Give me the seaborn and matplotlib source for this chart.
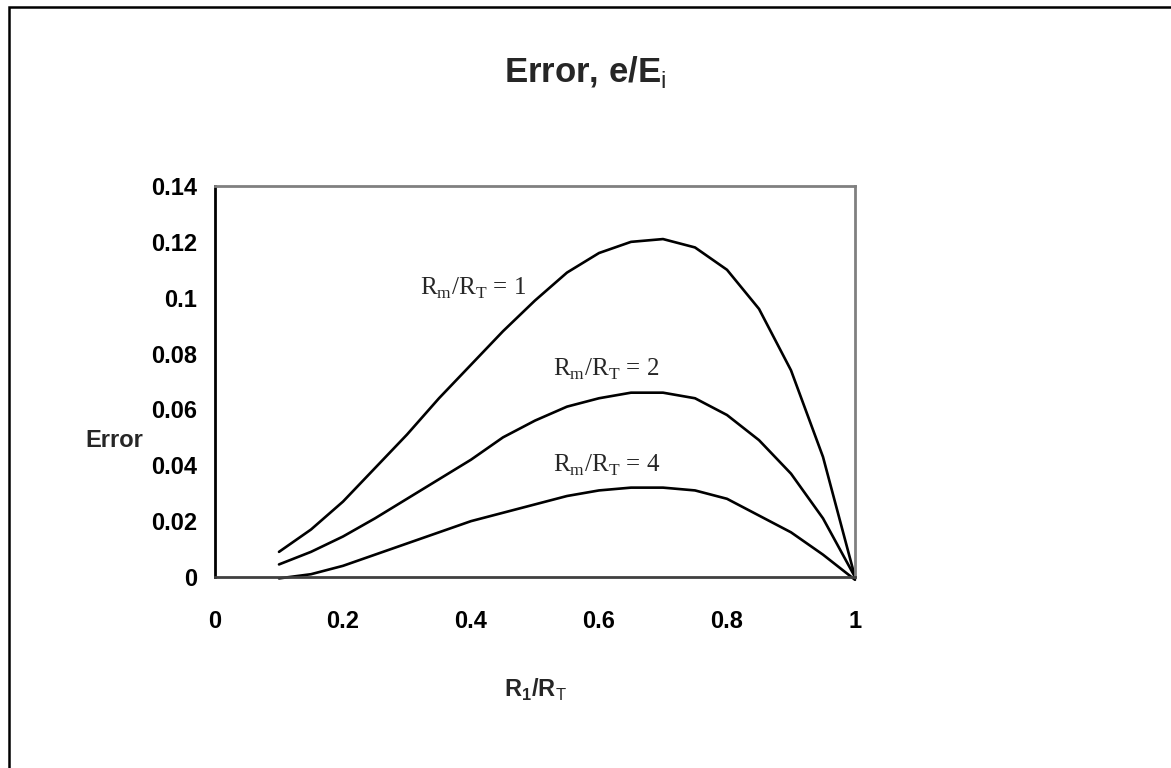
import matplotlib
matplotlib.use("Agg")
import matplotlib.pyplot as plt
import matplotlib.patches as mpatches
import numpy as np
import pandas as pd
import seaborn as sns

# ---- data ----
x_vals = [0.1, 0.15, 0.2, 0.25, 0.3, 0.35, 0.4, 0.45, 0.5, 0.55,
          0.6, 0.65, 0.7, 0.75, 0.8, 0.85, 0.9, 0.95, 1.0]
err_rm1 = [0.009, 0.017, 0.027, 0.039, 0.051, 0.064, 0.076, 0.088, 0.099, 0.109,
           0.116, 0.120, 0.121, 0.118, 0.110, 0.096, 0.074, 0.043, 0.0]
err_rm2 = [0.0045, 0.009, 0.0145, 0.021, 0.028, 0.035, 0.042, 0.050, 0.056, 0.061,
           0.064, 0.066, 0.066, 0.064, 0.058, 0.049, 0.037, 0.021, 0.0]
err_rm4 = [-0.0005, 0.001, 0.004, 0.008, 0.012, 0.016, 0.020, 0.023, 0.026, 0.029,
           0.031, 0.032, 0.032, 0.031, 0.028, 0.022, 0.016, 0.008, -0.001]
series_names = ["Rm/RT = 1", "Rm/RT = 2", "Rm/RT = 4"]
x_ticks = [0, 0.2, 0.4, 0.6, 0.8, 1.0]
x_tick_labels = ["0", "0.2", "0.4", "0.6", "0.8", "1"]
y_ticks = [0, 0.02, 0.04, 0.06, 0.08, 0.10, 0.12, 0.14]
y_tick_labels = ["0", "0.02", "0.04", "0.06", "0.08", "0.1", "0.12", "0.14"]
annot_texts = [r"R$_{\mathrm{m}}$/R$_{\mathrm{T}}$ = 1",
               r"R$_{\mathrm{m}}$/R$_{\mathrm{T}}$ = 2",
               r"R$_{\mathrm{m}}$/R$_{\mathrm{T}}$ = 4"]
annot_pos = [(0.32, 0.1035), (0.528, 0.0745), (0.528, 0.040)]

df = pd.DataFrame({
    "x": x_vals * 3,
    "err": err_rm1 + err_rm2 + err_rm4,
    "series": [series_names[0]] * len(x_vals) + [series_names[1]] * len(x_vals)
              + [series_names[2]] * len(x_vals),
})

sns.set_style("white")
plt.rcParams["font.family"] = ["Liberation Sans", "DejaVu Sans"]
plt.rcParams["mathtext.fontset"] = "custom"
plt.rcParams["mathtext.rm"] = "Liberation Serif"
plt.rcParams["mathtext.sf"] = "Liberation Sans"
plt.rcParams["mathtext.bf"] = "Liberation Sans:bold"

fig = plt.figure(figsize=(11.71, 7.68), dpi=100)
fig.patch.set_facecolor("white")
ax = fig.add_axes([215 / 1171, 1 - 577 / 768, 640 / 1171, 391 / 768])

sns.lineplot(data=df, x="x", y="err", hue="series",
             palette=["black", "black", "black"], linewidth=1.9,
             legend=False, ax=ax, clip_on=False)

ax.set_xlim(0, 1)
ax.set_ylim(0, 0.14)
ax.set_xticks(x_ticks)
ax.set_xticklabels(x_tick_labels, fontweight="bold")
ax.set_yticks(y_ticks)
ax.set_yticklabels(y_tick_labels, fontweight="bold")

ax.tick_params(axis="both", direction="inout", length=12, width=1.2,
               labelsize=17, colors="black")
ax.tick_params(axis="x", pad=18, color="#404040")
ax.tick_params(axis="y", pad=7)

for side in ["top", "right"]:
    ax.spines[side].set_color("#808080")
    ax.spines[side].set_linewidth(2)
ax.spines["left"].set_color("black")
ax.spines["left"].set_linewidth(2)
ax.spines["bottom"].set_color("#404040")
ax.spines["bottom"].set_linewidth(2)

ax.set_xlabel(r"R$_{\mathbf{1}}$/R$_{\mathsf{T}}$", fontsize=17, fontweight="bold",
              va="center")
ax.xaxis.set_label_coords(0.5, -0.289)
ax.set_ylabel("Error", fontsize=17, fontweight="bold", rotation=0,
              ha="right", va="center")
ax.yaxis.set_label_coords(-0.112, 0.35)

for txt, (tx, ty) in zip(annot_texts, annot_pos):
    ax.text(tx, ty, txt, fontsize=18, family="Liberation Serif",
            ha="left", va="center")

fig.text(0.5, 1 - 72 / 768, r"Error, e/E$_{\mathsf{i}}$", fontsize=25,
         fontweight="bold", ha="center", va="center")

# outer frame (runs past the right and bottom edges, as in the reference)
frame = mpatches.Rectangle((9 / 1171, -0.2), 1.3, (1 - 7 / 768) + 0.2,
                           transform=fig.transFigure, fill=False,
                           edgecolor="black", linewidth=1.8, clip_on=False)
fig.add_artist(frame)

fig.savefig("out.png", dpi=100, facecolor="white")
